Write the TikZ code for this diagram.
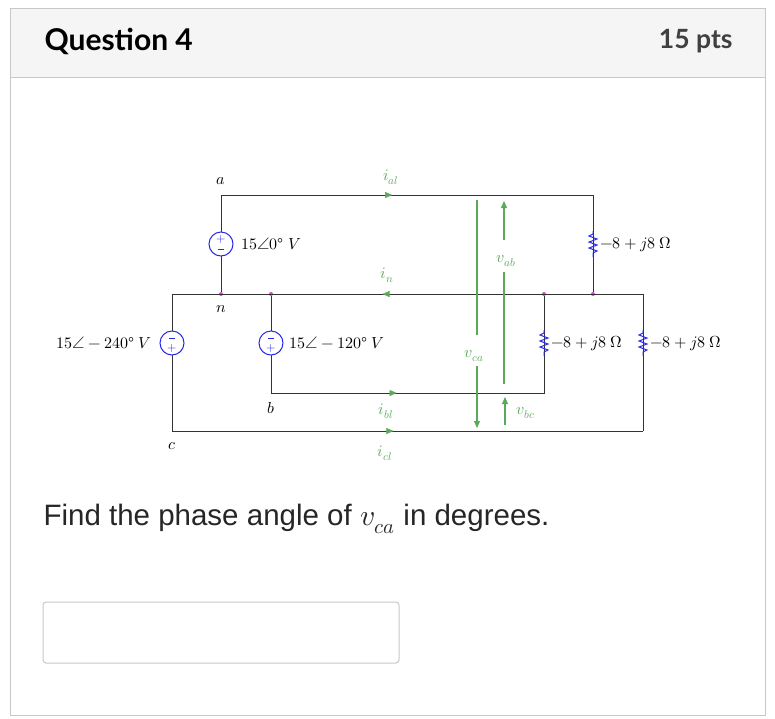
\documentclass[tikz,border=0pt]{standalone}
\usepackage{fontspec}
\setmainfont{Lato}
\newfontfamily\qfont{Liberation Sans}
\usepackage{unicode-math}
\setmathfont{Latin Modern Math}
\usetikzlibrary{arrows.meta,decorations.markings}
\definecolor{srcblue}{RGB}{40,40,235}
\definecolor{vgreen}{RGB}{90,170,90}
\definecolor{dotpink}{RGB}{230,60,230}
\definecolor{hdrgray}{RGB}{245,245,245}
\definecolor{brdgray}{RGB}{200,200,200}
\tikzset{
  wire/.style={draw=black!80,line width=0.9pt},
  marr/.style={postaction={decorate},decoration={markings,mark=at position #1 with {\arrow[vgreen]{Triangle[length=7pt,width=6pt]}}}},
  volt/.style={draw=vgreen,line width=1.1pt},
  lbl/.style={font=\fontsize{16}{18}\selectfont},
  glbl/.style={lbl,text=vgreen},
  jdot/.style={circle,fill=dotpink,inner sep=0pt,minimum size=4pt},
  pics/src/.style={code={
    \draw[srcblue,line width=1pt,fill=white] (0,0) circle (12);
    \node[srcblue,font=\fontsize{12}{12}\selectfont,inner sep=0pt] at (0,-5) {$#1$};
    \draw[srcblue,line width=0.9pt] (-3,5) -- (3,5);}},
  pics/res/.style={code={
    \draw[srcblue,line width=1pt] (0,-13) -- (0,-10) -- (-4,-8) -- (4,-5) -- (-4,-2) -- (4,1) -- (-4,4) -- (4,7) -- (0,9) -- (0,13);}}
}
\begin{document}
\begin{tikzpicture}[x=1pt,y=-1pt]
  \useasboundingbox (0,0) rectangle (775,718);
  % frame and header
  \draw[brdgray,fill=white] (10,8) rectangle (765,715);
  \draw[brdgray,fill=hdrgray] (10,8) rectangle (765,77);
  \node[anchor=west,font=\fontsize{30}{34}\selectfont\bfseries] (qtitle) at (41,41) {Question 4};
  \node[anchor=east,font=\fontsize{26.5}{30}\selectfont\bfseries,text=black!75] (qpts) at (736,41) {15 pts};
  % nodes
  \coordinate (aL) at (221,195);
  \coordinate (aR) at (593,195);
  \coordinate (nL) at (172,294);
  \coordinate (nR) at (643,294);
  \node[jdot] (jn) at (221,294) {};
  \node[jdot] (jb) at (271,294) {};
  \node[jdot] (jr) at (544,294) {};
  \node[jdot] (ja) at (593,294) {};
  \coordinate (bL) at (271,393);
  \coordinate (bR) at (544,393);
  \coordinate (cL) at (172,431);
  \coordinate (cR) at (643,431);
  % wires
  \draw[wire] (jn) -- (aL) -- (aR) -- (ja);
  \draw[wire] (nL) -- (nR) -- (cR);
  \draw[wire] (jb) -- (bL) -- (bR) -- (jr);
  \draw[wire] (nL) -- (cL) -- (cR);
  \path[marr=0.46] (aL) -- (aR);
  \path[marr=0.46] (bL) -- (bR);
  \path[marr=0.47] (cL) -- (cR);
  \path[marr=0.5] (jr) -- (jn);
  % sources and loads
  \pic at (221,244) {src={+}};
  \pic[rotate=180] at (172,343) {src={+}};
  \pic[rotate=180] at (271,343) {src={+}};
  \pic at (593,244) {res};
  \pic at (544,343) {res};
  \pic at (643,343) {res};
  % labels
  \node[lbl] (la) at (221,181) {$a$};
  \node[lbl] (ln) at (221,309) {$n$};
  \node[lbl] (lb) at (271,408) {$b$};
  \node[lbl] (lc) at (172,446) {$c$};
  \node[lbl,anchor=west] (Va) at (238,244) {$15\angle 0°\;V$};
  \node[lbl,anchor=east] (Vc) at (155,343) {$15\angle-240°\;V$};
  \node[lbl,anchor=west] (Vb) at (286,343) {$15\angle-120°\;V$};
  \node[lbl,anchor=west] (Za) at (597,244) {$-8+j8\;\Omega$};
  \node[lbl,anchor=west] (Zb) at (548,343) {$-8+j8\;\Omega$};
  \node[lbl,anchor=west] (Zc) at (647,343) {$-8+j8\;\Omega$};
  \node[glbl] (ial) at (391,177) {$i_{al}$};
  \node[glbl] (in) at (387,275) {$i_{n}$};
  \node[glbl] (ibl) at (386,411) {$i_{bl}$};
  \node[glbl] (icl) at (385,453) {$i_{cl}$};
  % line voltages
  \node[glbl] (vab) at (506,261) {$v_{ab}$};
  \node[glbl] (vca) at (474,356) {$v_{ca}$};
  \node[glbl] (vbc) at (526,413) {$v_{bc}$};
  \draw[volt,-{Triangle[length=7pt,width=6pt]}] (504,240) -- (504,201);
  \draw[volt] (504,384) -- (504,272);
  \draw[volt] (477,200) -- (477,335);
  \draw[volt,-{Triangle[length=7pt,width=6pt]}] (477,366) -- (477,428);
  \draw[volt,-{Triangle[length=7pt,width=6pt]}] (505,425) -- (505,397);
  % question
  \node[anchor=west,font=\qfont\fontsize{29.5}{34}\selectfont,text=black!85] (qtext) at (40,519) {Find the phase angle of $v_{ca}$ in degrees.};
  \draw[brdgray,line width=1pt,rounded corners=3pt] (43,602) rectangle (399,663);
\end{tikzpicture}
\end{document}
